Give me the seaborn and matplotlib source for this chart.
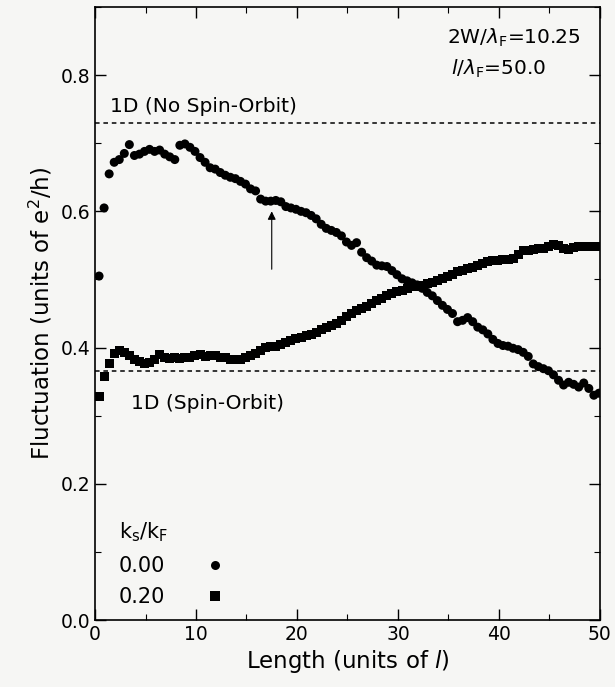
import numpy as np
import pandas as pd
import matplotlib
matplotlib.use("Agg")
import matplotlib.pyplot as plt
import seaborn as sns
from matplotlib.ticker import MultipleLocator

# Length grid (units of l)
length = [0.4, 0.9, 1.4, 1.9, 2.4, 2.9, 3.4, 3.9, 4.4, 4.9,
          5.4, 5.9, 6.4, 6.9, 7.4, 7.9, 8.4, 8.9, 9.4, 9.9,
          10.4, 10.9, 11.4, 11.9, 12.4, 12.9, 13.4, 13.9, 14.4, 14.9,
          15.4, 15.9, 16.4, 16.9, 17.4, 17.9, 18.4, 18.9, 19.4, 19.9,
          20.4, 20.9, 21.4, 21.9, 22.4, 22.9, 23.4, 23.9, 24.4, 24.9,
          25.4, 25.9, 26.4, 26.9, 27.4, 27.9, 28.4, 28.9, 29.4, 29.9,
          30.4, 30.9, 31.4, 31.9, 32.4, 32.9, 33.4, 33.9, 34.4, 34.9,
          35.4, 35.9, 36.4, 36.9, 37.4, 37.9, 38.4, 38.9, 39.4, 39.9,
          40.4, 40.9, 41.4, 41.9, 42.4, 42.9, 43.4, 43.9, 44.4, 44.9,
          45.4, 45.9, 46.4, 46.9, 47.4, 47.9, 48.4, 48.9, 49.4, 49.9]

# ks/kF = 0.00 (circles)
fluct_000 = [0.505, 0.605, 0.655, 0.672, 0.676, 0.685, 0.698, 0.682, 0.684, 0.688,
             0.691, 0.688, 0.690, 0.684, 0.680, 0.676, 0.697, 0.699, 0.694, 0.688,
             0.679, 0.672, 0.664, 0.662, 0.657, 0.653, 0.650, 0.648, 0.644, 0.640,
             0.633, 0.630, 0.618, 0.615, 0.615, 0.616, 0.614, 0.607, 0.605, 0.603,
             0.600, 0.598, 0.594, 0.589, 0.581, 0.575, 0.572, 0.569, 0.564, 0.555,
             0.550, 0.554, 0.540, 0.532, 0.527, 0.521, 0.520, 0.519, 0.513, 0.507,
             0.501, 0.498, 0.495, 0.492, 0.487, 0.481, 0.476, 0.469, 0.462, 0.456,
             0.450, 0.438, 0.440, 0.444, 0.438, 0.430, 0.426, 0.420, 0.412, 0.406,
             0.403, 0.402, 0.399, 0.397, 0.393, 0.387, 0.376, 0.372, 0.369, 0.366,
             0.360, 0.352, 0.345, 0.349, 0.346, 0.342, 0.348, 0.340, 0.330, 0.333]

# ks/kF = 0.20 (squares)
fluct_020 = [0.328, 0.358, 0.376, 0.392, 0.395, 0.393, 0.388, 0.382, 0.379, 0.377,
             0.378, 0.383, 0.390, 0.386, 0.384, 0.385, 0.384, 0.386, 0.385, 0.388,
             0.390, 0.387, 0.389, 0.388, 0.386, 0.385, 0.383, 0.382, 0.383, 0.385,
             0.388, 0.392, 0.396, 0.400, 0.401, 0.402, 0.404, 0.407, 0.410, 0.414,
             0.415, 0.417, 0.419, 0.422, 0.426, 0.429, 0.432, 0.436, 0.440, 0.446,
             0.450, 0.454, 0.458, 0.461, 0.464, 0.469, 0.472, 0.476, 0.479, 0.482,
             0.484, 0.487, 0.489, 0.490, 0.491, 0.494, 0.496, 0.499, 0.501, 0.504,
             0.507, 0.511, 0.513, 0.516, 0.518, 0.520, 0.523, 0.526, 0.528, 0.528,
             0.529, 0.530, 0.531, 0.536, 0.542, 0.543, 0.544, 0.545, 0.546, 0.548,
             0.551, 0.550, 0.545, 0.544, 0.547, 0.549, 0.549, 0.549, 0.549, 0.549]

ks_labels = ["0.00", "0.20"]
level_no_so = 0.730
level_so = 0.365

df = pd.DataFrame({
    "length": length * 2,
    "fluct": fluct_000 + fluct_020,
    "ks": [ks_labels[0]] * len(length) + [ks_labels[1]] * len(length),
})

sns.set_style("ticks")
plt.rcParams["font.family"] = ["DejaVu Sans"]
plt.rcParams["mathtext.fontset"] = "dejavusans"
for key in ["text.color", "axes.labelcolor", "xtick.color", "ytick.color", "axes.edgecolor"]:
    plt.rcParams[key] = "black"

fig = plt.figure(figsize=(6.15, 6.87), dpi=100)
fig.patch.set_facecolor("#f6f6f4")
ax = fig.add_axes([0.1545, 0.0975, 0.821, 0.8923])
ax.set_facecolor("#f6f6f4")

sns.scatterplot(data=df, x="length", y="fluct", style="ks",
                markers={"0.00": "o", "0.20": "s"}, color="black",
                s=42, linewidth=0, ax=ax)

ax.axhline(level_no_so, color="black", ls=(0, (3, 2.5)), lw=1.1)
ax.axhline(level_so, color="black", ls=(0, (3, 2.5)), lw=1.1)

ax.text(1.5, 0.746, "1D (No Spin-Orbit)", fontsize=14.5)
ax.text(3.6, 0.310, "1D (Spin-Orbit)", fontsize=14.5)
ax.text(34.9, 0.846, r"2W/$\lambda_{\rm F}$=10.25", fontsize=14.5)
ax.text(35.3, 0.801, r"$l$/$\lambda_{\rm F}$=50.0", fontsize=14.5)

ax.annotate("", xy=(17.5, 0.600), xytext=(17.5, 0.515),
            arrowprops=dict(arrowstyle="-|>", color="black", lw=0.8,
                            mutation_scale=12, shrinkA=0, shrinkB=0))

ax.set_xlim(0, 50)
ax.set_ylim(0, 0.9)
ax.xaxis.set_major_locator(MultipleLocator(10))
ax.xaxis.set_minor_locator(MultipleLocator(5))
ax.yaxis.set_minor_locator(MultipleLocator(0.1))
ax.set_yticks([0.0, 0.2, 0.4, 0.6, 0.8])
ax.set_yticklabels(["0.0", "0.2", "0.4", "0.6", "0.8"])
ax.tick_params(which="both", direction="in", top=True, right=True,
               labelsize=13.5, color="black", labelcolor="black")
ax.tick_params(which="major", length=8, width=1)
ax.tick_params(which="minor", length=4, width=0.8)
for sp in ax.spines.values():
    sp.set_linewidth(1.2)
    sp.set_color("black")

ax.set_xlabel(r"Length (units of $l$)", fontsize=16.5, labelpad=3)
ax.set_ylabel(r"Fluctuation (units of e$^2$/h)", fontsize=16.5, labelpad=4)

sns.move_legend(ax, "lower left", bbox_to_anchor=(0.01, -0.01),
                title=r"k$_{\rm s}$/k$_{\rm F}$", frameon=False,
                markerfirst=False, fontsize=15, title_fontsize=15,
                handletextpad=1.4, labelspacing=0.55, alignment="left")

fig.savefig("out.png", dpi=100)
